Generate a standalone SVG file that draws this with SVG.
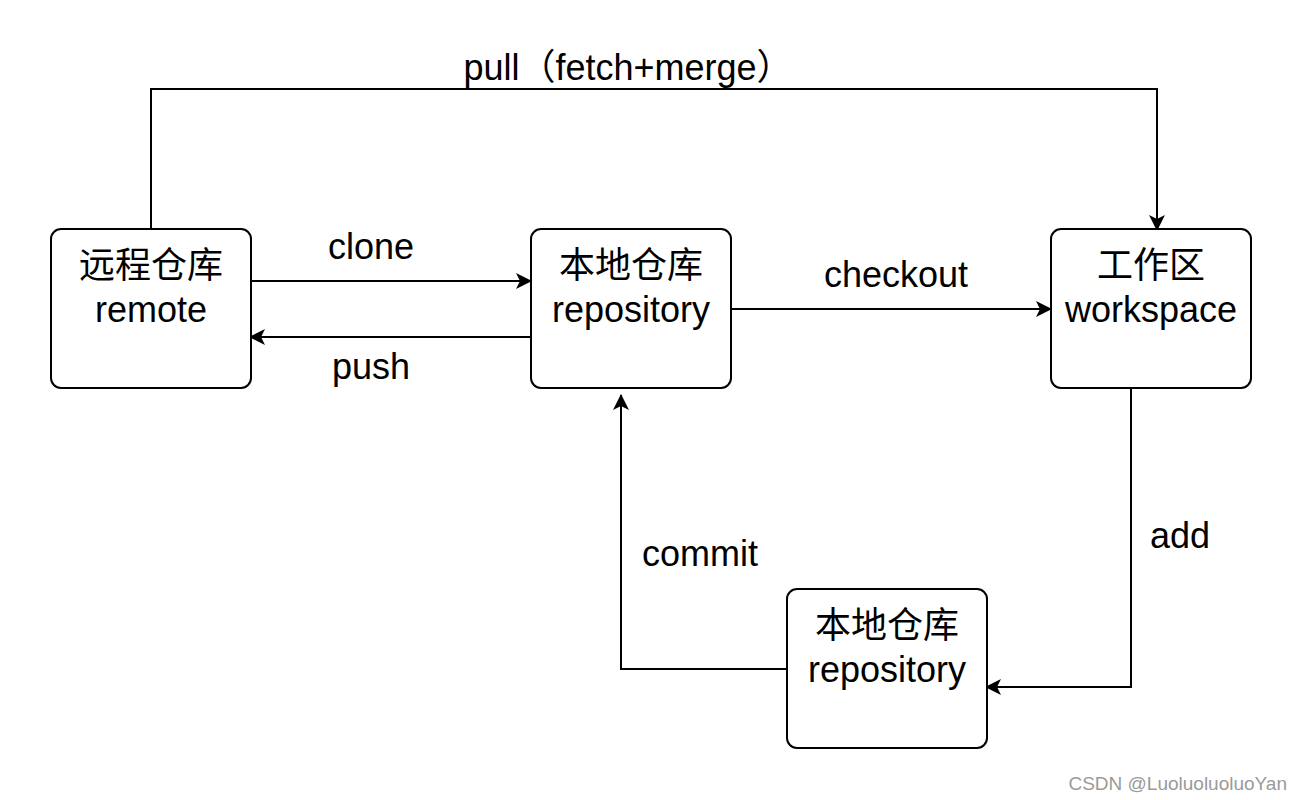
<svg xmlns="http://www.w3.org/2000/svg" width="1302" height="800" viewBox="0 0 1302 800">
<style>
.box{fill:#fff;stroke:#000;stroke-width:2}
.t{font-family:"Liberation Sans","Noto Sans CJK SC",sans-serif;font-size:36px;fill:#000;text-anchor:middle}
.lbl{font-family:"Liberation Sans","Noto Sans CJK SC",sans-serif;font-size:36px;fill:#000;text-anchor:middle}
.c{fill:none;stroke:#000;stroke-width:2}
.wm{font-family:"Liberation Sans",sans-serif;font-size:19px;fill:#9a9a9a;text-anchor:end}
</style>
<defs>
<marker id="ah" viewBox="0 0 16 16" refX="15" refY="8" markerWidth="16" markerHeight="16" markerUnits="userSpaceOnUse" orient="auto">
<path d="M0,0 L16,8 L0,16 L4,8 Z" fill="#000"/>
</marker>
</defs>
<rect width="1302" height="800" fill="#fff"/>
<g id="connectors">
<path class="c" d="M251,281 H531" marker-end="url(#ah)"/>
<path class="c" d="M531,337 H250" marker-end="url(#ah)"/>
<path class="c" d="M731,309 H1051" marker-end="url(#ah)"/>
<path class="c" d="M151,229 V89 H1157 V230" marker-end="url(#ah)"/>
<path class="c" d="M1131,388 V687 H986" marker-end="url(#ah)"/>
<path class="c" d="M787,669 H621 V395" marker-end="url(#ah)"/>
<text class="lbl" x="371" y="259">clone</text>
<text class="lbl" x="371" y="379">push</text>
<text class="lbl" x="896" y="287">checkout</text>
<text class="lbl" x="700" y="566">commit</text>
<text class="lbl" x="1180" y="548">add</text>
<text class="lbl" x="628" y="80">pull（fetch+merge）</text>
</g>
<g id="remote">
<rect class="box" x="51" y="229" width="200" height="159" rx="10"/>
<text class="t" x="151" y="278">远程仓库</text>
<text class="t" x="151" y="322">remote</text>
</g>
<g id="repo">
<rect class="box" x="531" y="229" width="200" height="159" rx="10"/>
<text class="t" x="631" y="278">本地仓库</text>
<text class="t" x="631" y="322">repository</text>
</g>
<g id="workspace">
<rect class="box" x="1051" y="229" width="200" height="159" rx="10"/>
<text class="t" x="1151" y="278">工作区</text>
<text class="t" x="1151" y="322">workspace</text>
</g>
<g id="stage">
<rect class="box" x="787" y="589" width="200" height="159" rx="10"/>
<text class="t" x="887" y="638">本地仓库</text>
<text class="t" x="887" y="682">repository</text>
</g>
<text class="wm" x="1287" y="790">CSDN @LuoluoluoluoYan</text>
</svg>
